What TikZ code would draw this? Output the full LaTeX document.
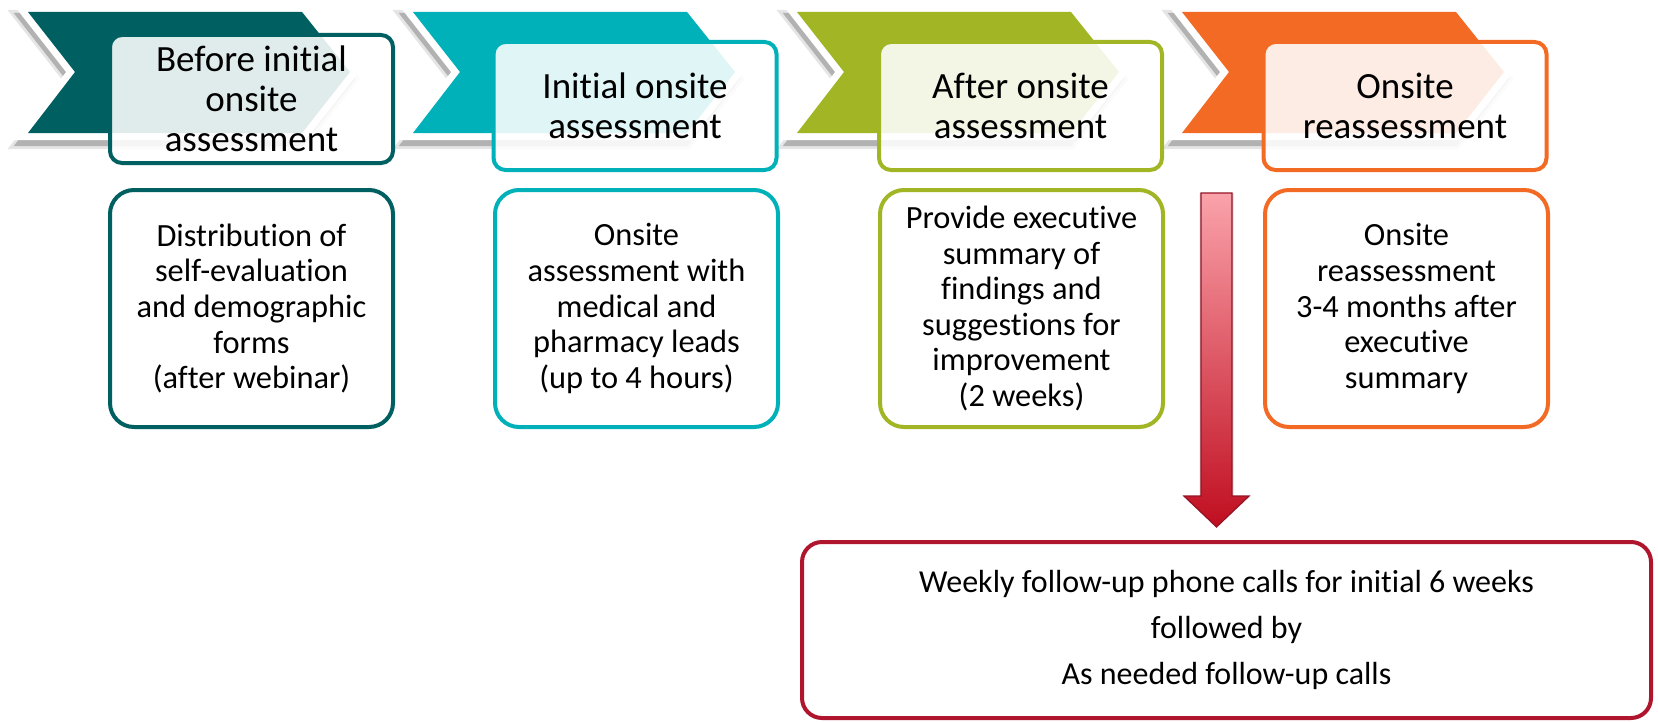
\documentclass[tikz,border=0pt]{standalone}
\usepackage{fontspec}
\setmainfont{Carlito}[RawFeature={-liga;-clig;-calt;-dlig}]
\usetikzlibrary{calc}

\definecolor{cteal}{RGB}{0,95,97}
\definecolor{ccyan}{RGB}{0,177,185}
\definecolor{colive}{RGB}{162,181,37}
\definecolor{corange}{RGB}{242,106,36}
\definecolor{cred}{RGB}{175,22,46}
\definecolor{arrowtop}{RGB}{250,162,170}
\definecolor{arrowbot}{RGB}{192,14,32}

\tikzset{
  phasebox/.style={draw=#1, line width=2pt, fill=white, fill opacity=0.88,
    text opacity=1, rounded corners=6pt, minimum width=141.5pt,
    minimum height=64pt, align=center, inner sep=2pt,
    font=\fontsize{18.5}{20}\selectfont},
  taskbox/.style={draw=#1, line width=2pt, fill=white, rounded corners=12pt,
    minimum width=141.5pt, minimum height=118.5pt, align=center, inner sep=2pt,
    font=\fontsize{16.2}{17.8}\selectfont},
  callbox/.style={draw=cred, line width=2pt, fill=white, rounded corners=10pt,
    minimum width=424.5pt, minimum height=88pt, align=center,
    font=\fontsize{16}{23}\selectfont},
}

\begin{document}
\begin{tikzpicture}[x=0.5pt,y=-0.5pt]
\useasboundingbox (0,0) rectangle (1658,722);

% chevron banners with white rim and drop shadow
\foreach \L/\c in {28/cteal, 413/ccyan, 797/colive, 1182/corange}{
  \begin{scope}[shift={(-2,7)}]
    \draw[black!10, fill=black!10, line width=9pt, line join=miter]
      (\L,12) -- (\L+274,12) -- (\L+322,72) -- (\L+274,133) -- (\L,133) -- (\L+47,72) -- cycle;
    \draw[black!30, fill=black!30, line width=6pt, line join=miter]
      (\L,12) -- (\L+274,12) -- (\L+322,72) -- (\L+274,133) -- (\L,133) -- (\L+47,72) -- cycle;
  \end{scope}
  \draw[white, fill=white, line width=7pt, line join=miter]
    (\L,12) -- (\L+274,12) -- (\L+322,72) -- (\L+274,133) -- (\L,133) -- (\L+47,72) -- cycle;
  \fill[\c]
    (\L,12) -- (\L+274,12) -- (\L+322,72) -- (\L+274,133) -- (\L,133) -- (\L+47,72) -- cycle;
}

% phase headers
\node[phasebox=cteal]   (h1) at (251.5,99)  {Before initial\\onsite\\assessment};
\node[phasebox=ccyan]   (h2) at (635,106)   {Initial onsite\\assessment};
\node[phasebox=colive]  (h3) at (1020.5,106){After onsite\\assessment};
\node[phasebox=corange] (h4) at (1405,106)  {Onsite\\reassessment};

% task descriptions
\node[taskbox=cteal]   (t1) at (251.5,308.5)  {Distribution of\\self-evaluation\\and demographic\\forms\\(after webinar)};
\node[taskbox=ccyan]   (t2) at (636.5,308.5)  {Onsite\\assessment with\\medical and\\pharmacy leads\\(up to 4 hours)};
\node[taskbox=colive]  (t3) at (1021.5,308.5) {Provide executive\\summary of\\findings and\\suggestions for\\improvement\\(2 weeks)};
\node[taskbox=corange] (t4) at (1406.5,308.5) {Onsite\\reassessment\\3-4 months after\\executive\\summary};

% follow-up calls
\node[callbox] (calls) at (1226.5,630) {Weekly follow-up phone calls for initial 6 weeks\\followed by\\As needed follow-up calls};

% block arrow leading down to the follow-up calls
\coordinate (atop) at (1216.5,193);
\coordinate (atip) at (1216.5,527);
\begin{scope}[shift={(-2,4)}]
  \fill[black!14]
    ($(atop)+(-17,0)$) -- ($(atop)+(17,0)$) -- ($(atip)+(17,-31)$) -- ($(atip)+(34,-31)$)
    -- (atip) -- ($(atip)+(-34,-31)$) -- ($(atip)+(-17,-31)$) -- cycle;
\end{scope}
\shadedraw[top color=arrowtop, bottom color=arrowbot, draw=cred!85!black, line width=0.6pt, line join=miter]
  ($(atop)+(-15.5,0)$) -- ($(atop)+(15.5,0)$) -- ($(atip)+(15.5,-31)$) -- ($(atip)+(32.5,-31)$)
  -- (atip) -- ($(atip)+(-32.5,-31)$) -- ($(atip)+(-15.5,-31)$) -- cycle;

\end{tikzpicture}
\end{document}
